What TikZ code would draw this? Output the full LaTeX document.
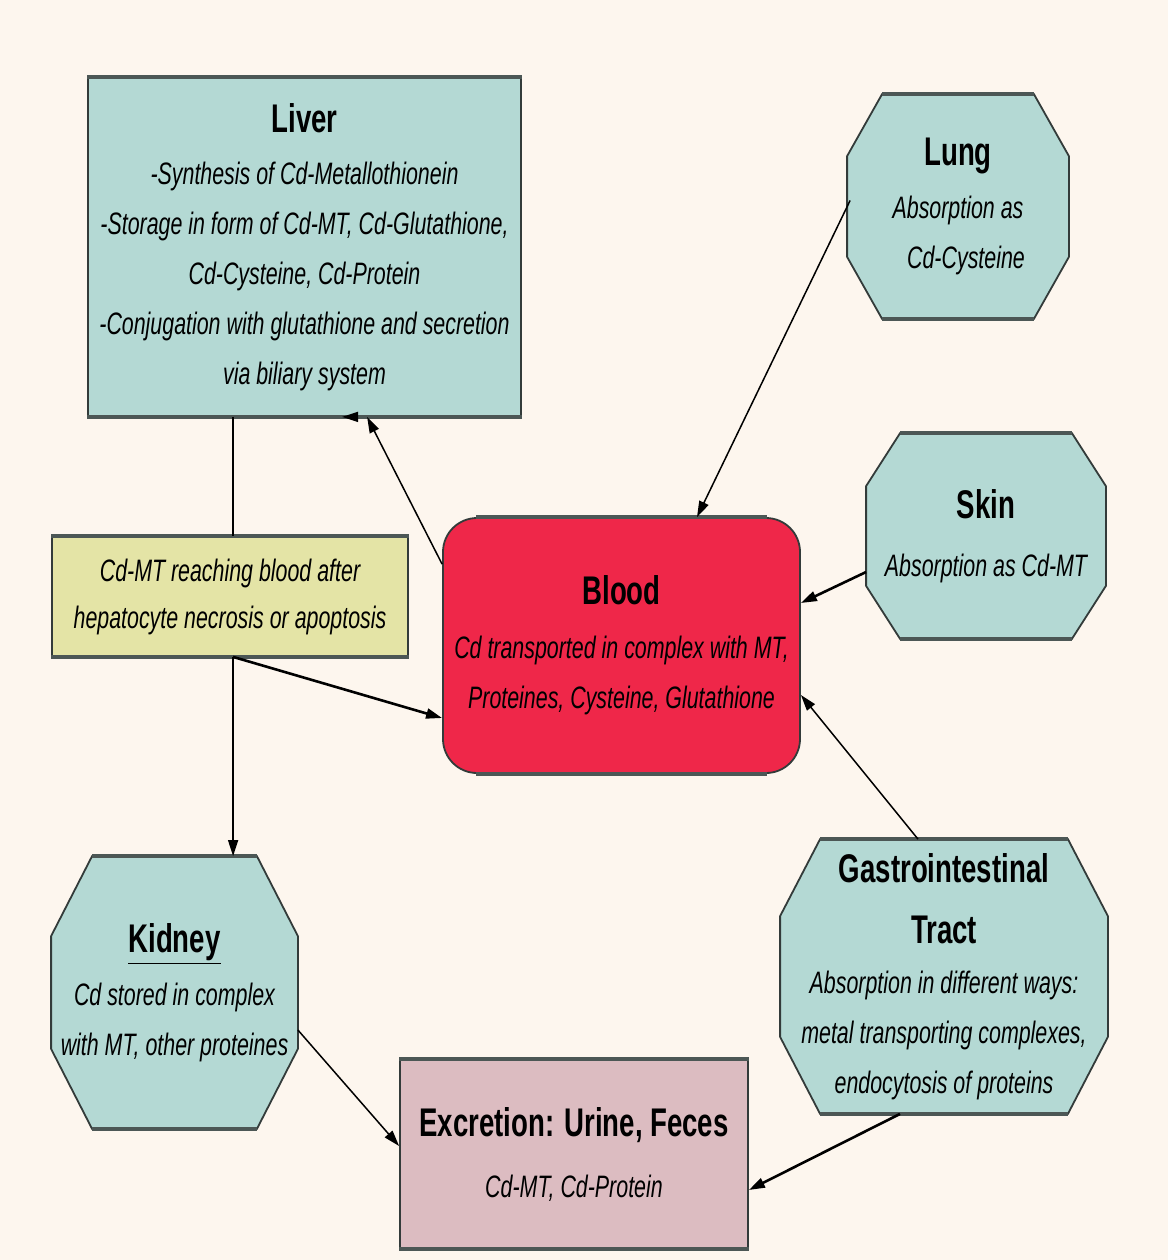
\documentclass[tikz,border=0pt]{standalone}
\usepackage{fontspec}
\setmainfont{Liberation Sans}[FakeStretch=0.69]
\usepackage{xcolor}
\usepackage{tikz}
\usetikzlibrary{calc}
\usetikzlibrary{arrows.meta}
\usetikzlibrary{backgrounds}
\definecolor{PaperCream}{HTML}{FDF6EE}
\definecolor{OrganTeal}{HTML}{B4D9D4}
\definecolor{BloodRed}{HTML}{EF2749}
\definecolor{NoteYellow}{HTML}{E4E4A6}
\definecolor{ExcretaPink}{HTML}{DCBCC1}
\definecolor{EdgeGray}{HTML}{333B3A}
\definecolor{RimGray}{HTML}{4C5755}

\newcommand{\organname}[1]{{\fontsize{20}{25}\selectfont\bfseries\upshape #1}}
% octagon round a node: name, cut in x, cut in y
\newcommand{\octagon}[3]{%
  \draw[line width = .9pt, draw = EdgeGray, fill = OrganTeal]
    ($(#1.north west)+(#2,0)$) -- ($(#1.north east)+(-#2,0)$)
    -- ($(#1.north east)+(0,#3)$) -- ($(#1.south east)+(0,-#3)$)
    -- ($(#1.south east)+(-#2,0)$) -- ($(#1.south west)+(#2,0)$)
    -- ($(#1.south west)+(0,-#3)$) -- ($(#1.north west)+(0,#3)$) -- cycle;
  \draw[rim] ($(#1.north west)+(#2,0)$) -- ($(#1.north east)+(-#2,0)$)
    ($(#1.south west)+(#2,0)$) -- ($(#1.south east)+(-#2,0)$);}

\tikzset{
  organ/.style = {draw = EdgeGray, line width = .9pt, fill = OrganTeal,
    align = center, inner sep = 0pt,
    font = \fontsize{15.5}{25}\selectfont\itshape},
  octo/.style = {organ, draw = none, fill = none},
  rim/.style = {line width = 1.8pt, draw = RimGray},
  flow/.style = {-{Triangle[length = 8pt, width = 5pt]}, line width = .75pt},
  heavyflow/.style = {flow, line width = 1.3pt}
}

\begin{document}
\begin{tikzpicture}[x = .5pt, y = -.5pt]
  \begin{scope}[on background layer]
    \fill[PaperCream] (0,0) rectangle (1168,1260);
  \end{scope}
  \useasboundingbox (0,0) rectangle (1168,1260);

  % organs
  \node[organ, minimum width = 216.5pt, minimum height = 169pt] (liver) at (304.5,247)
    {\organname{Liver}\\[1pt]
     -Synthesis of Cd-Metallothionein\\
     -Storage in form of Cd-MT, Cd-Glutathione,\\
     Cd-Cysteine, Cd-Protein\\
     -Conjugation with glutathione and secretion\\
     via biliary system};

  \node[octo, minimum width = 110pt, minimum height = 111.5pt] (lung) at (958,206.5)
    {\organname{Lung}\\[1.5pt] Absorption as\\ \hspace*{8pt}Cd-Cysteine};

  \node[octo, minimum width = 119pt, minimum height = 102pt] (skin) at (986,536)
    {\organname{Skin}\\[4pt] Absorption as Cd-MT};

  \node[organ, fill = BloodRed, rounded corners = 17pt, minimum width = 178.5pt,
    minimum height = 127.5pt] (blood) at (621.5,645.5)
    {\organname{Blood}\\[2pt]
     Cd transported in complex with MT,\\
     Proteines, Cysteine, Glutathione};

  \node[organ, fill = NoteYellow, minimum width = 178pt, minimum height = 59.5pt,
    font = \fontsize{15.5}{23.5}\selectfont\itshape] (necrosis) at (230,596.5)
    {Cd-MT reaching blood after\\ hepatocyte necrosis or apoptosis};

  \node[octo, minimum width = 122.5pt, minimum height = 135.5pt] (kidney) at (174.5,992.5)
    {\organname{\underline{Kidney}}\\[1.5pt]
     Cd stored in complex\\ with MT, other proteines};

  \node[octo, minimum width = 163pt, minimum height = 136.5pt] (gi) at (944,976.5)
    {\organname{Gastrointestinal}\\[5.5pt] \organname{Tract}\\
     Absorption in different ways:\\
     metal transporting complexes,\\
     endocytosis of proteins};

  \node[organ, fill = ExcretaPink, minimum width = 174pt, minimum height = 94pt] (excretion) at (574,1154)
    {\organname{Excretion: Urine, Feces}\\[5.5pt] Cd-MT, Cd-Protein};

  % octagons and rims
  \begin{scope}[on background layer]
    \octagon{lung}{35}{62}
    \octagon{skin}{34}{53}
    \octagon{kidney}{41}{80}
    \octagon{gi}{40}{77}
  \end{scope}
  \foreach \organ in {liver, necrosis, excretion}
    \draw[rim] (\organ.south west) -- (\organ.south east)
      (\organ.north west) -- (\organ.north east);
  \draw[rim] ($(blood.north west)+(34,0)$) -- ($(blood.north east)+(-34,0)$)
    ($(blood.south west)+(34,0)$) -- ($(blood.south east)+(-34,0)$);

  % transport
  \coordinate (split) at ($(liver.south west)+(146,0)$);
  \draw[line width = .75pt] (split) -- (split |- necrosis.north);
  \draw[flow] (split |- necrosis.south) -- (split |- kidney.north);
  \draw[heavyflow] (split |- necrosis.south) -- ($(blood.west)+(0,72.5)$);
  \draw[flow] ($(blood.north west)+(0,47)$) -- ($(liver.south west)+(280,0)$);
  \draw[flow] ($(liver.south west)+(270,0)$) -- ($(liver.south west)+(255,0)$);
  \draw[flow] ($(lung.west)+(3,-6)$) -- ($(blood.north)+(75.5,0)$);
  \draw[heavyflow] ($(skin.west)+(0,36)$) -- ($(blood.east)+(0,-42.5)$);
  \draw[flow] ($(gi.north)+(-26,0)$) -- ($(blood.east)+(0,49.5)$);
  \draw[flow] ($(kidney.east)+(0,37.5)$) -- ($(excretion.west)+(0,-8)$);
  \draw[heavyflow] ($(gi.south)+(-44,0)$) -- ($(excretion.east)+(0,36)$);
\end{tikzpicture}
\end{document}
